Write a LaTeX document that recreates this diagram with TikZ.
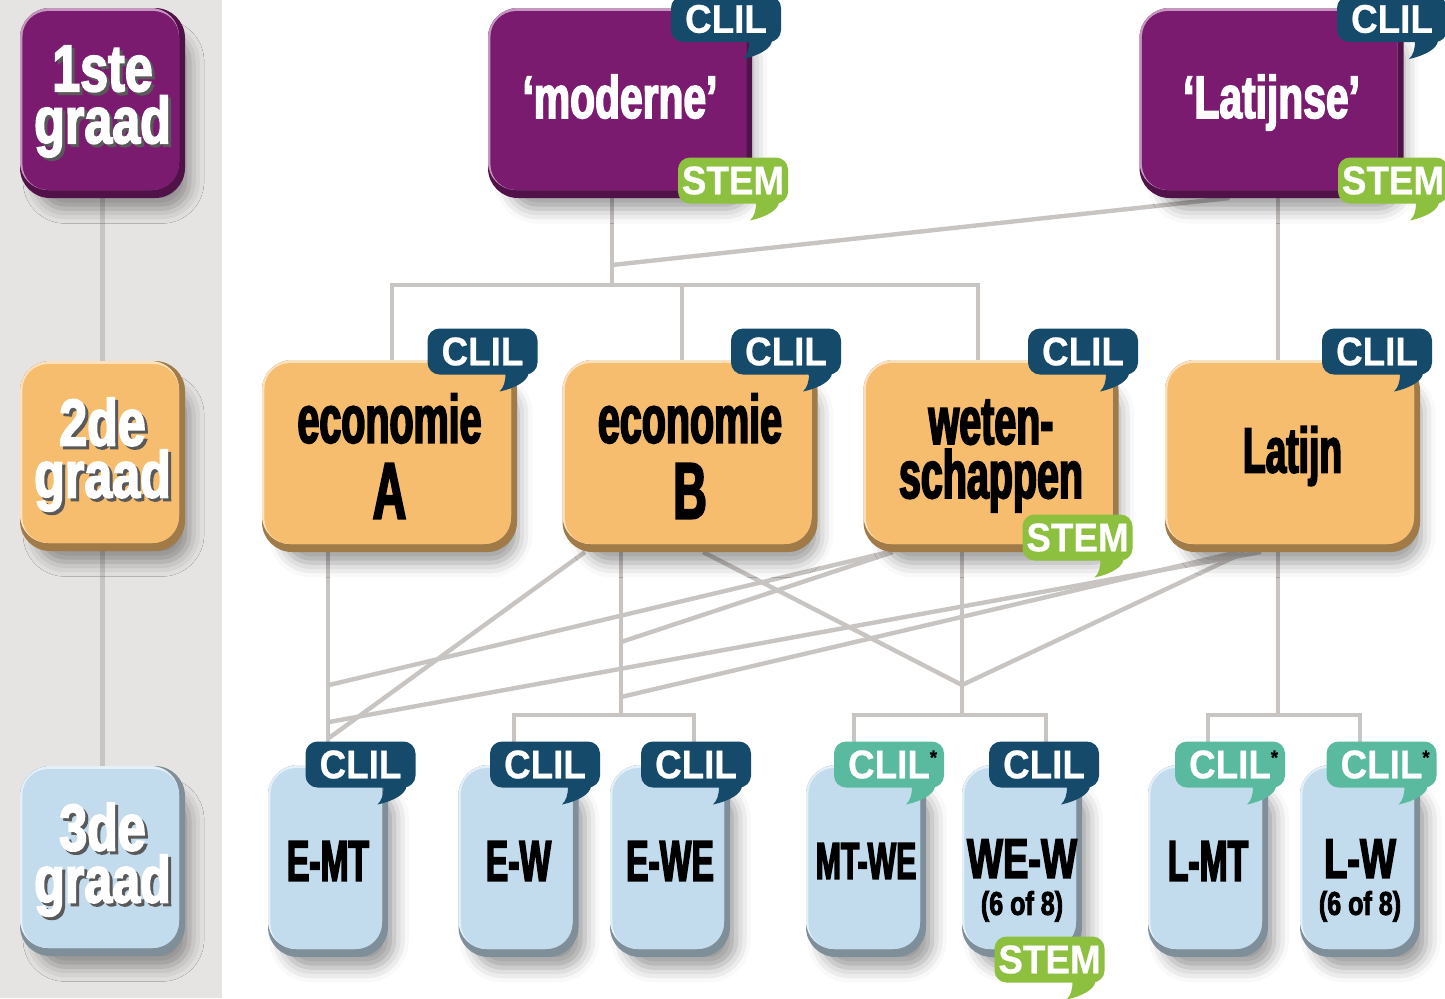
\documentclass[tikz,border=0pt]{standalone}
\usepackage{fontspec}
\usetikzlibrary{shadows.blur}
\newfontfamily\condfont[FakeStretch=0.58,FakeBold=2.5]{Liberation Sans Bold}
\newfontfamily\breedfont[FakeStretch=0.68,FakeBold=2.5]{Liberation Sans Bold}
\newfontfamily\gradefont[FakeStretch=0.76,FakeBold=2.5]{Liberation Sans Bold}
\newfontfamily\tagfont[FakeStretch=0.92,FakeBold=0.6]{Liberation Sans Bold}
\definecolor{paars}{HTML}{7B1B6F}
\definecolor{oranje}{HTML}{F6BD6E}
\definecolor{lblauw}{HTML}{C3DCED}
\definecolor{clildonker}{HTML}{164A6A}
\definecolor{clillicht}{HTML}{5ABA9F}
\definecolor{stemgroen}{HTML}{8DC03F}
\definecolor{lijn}{HTML}{C8C4C2}
\definecolor{paneel}{HTML}{E6E4E3}
\pgfdeclarelayer{background}
\pgfsetlayers{background,main}
\newcommand{\schaduw}[1]{\makebox[0pt][l]{\hspace{1.5pt}\raisebox{-1.5pt}{\color{black!65}#1}}#1}
\newcommand{\staart}[2]{\fill[#2] ([shift={(-16pt,0.5pt)}]#1.south east)
  .. controls ([shift={(-16pt,-4pt)}]#1.south east) and ([shift={(-17pt,-6.5pt)}]#1.south east) .. ([shift={(-19pt,-8.5pt)}]#1.south east)
  .. controls ([shift={(-10pt,-6.5pt)}]#1.south east) and ([shift={(-5pt,-3pt)}]#1.south east) .. ([shift={(-4.5pt,0.5pt)}]#1.south east) -- cycle;}
\newcommand{\ster}{\rlap{\raisebox{7pt}{\color{black}\fontsize{10}{10}\selectfont*}}}
\newcommand{\basis}[2]{\raisebox{#1}[0pt][0pt]{#2}}
\newcommand{\tweeregels}[2]{\raisebox{-17.5pt}[0pt][0pt]{\begin{tabular}{@{}c@{}}#1\\[-13.5pt]{\gradefont\fontsize{16.5}{17}\selectfont #2}\end{tabular}}}
\begin{document}
\begin{tikzpicture}[x=0.5pt,y=-0.5pt,inner sep=0pt,outer sep=0pt,
box/.style={rounded corners=15pt,align=center,fill=#1!65!black,
  blur shadow={shadow xshift=6pt,shadow yshift=-10pt,shadow blur radius=8pt,shadow scale=0.92,shadow opacity=40},
  path picture={\fill[#1!45!white,rounded corners=14pt] (path picture bounding box.north west) rectangle ([shift={(-3pt,4pt)}]path picture bounding box.south east);
    \fill[#1,rounded corners=13pt] ([shift={(1.2pt,-1.5pt)}]path picture bounding box.north west) rectangle ([shift={(-3pt,4pt)}]path picture bounding box.south east);}},
grade/.style={box=#1,minimum width=82.5pt,minimum height=95pt,text=white,font=\gradefont\fontsize{33}{26}\selectfont},
eerste/.style={box=paars,minimum width=132pt,minimum height=95pt,text=white,font=\breedfont\fontsize{30}{32}\selectfont},
tweede/.style={box=oranje,minimum width=127.5pt,minimum height=96pt,font=\condfont\fontsize{34}{27}\selectfont},
derde/.style={box=lblauw,minimum width=60pt,minimum height=96pt,font=\condfont\fontsize{29}{30}\selectfont},
tag/.style={rounded corners=6pt,fill=#1,text=white,font=\tagfont\fontsize{20}{20}\selectfont,minimum width=55pt,minimum height=23pt},
verbind/.style={draw=lijn,line width=2.2pt}]
\useasboundingbox (0,0) rectangle (1445,998);
% graden
\node[grade=paars] (g1) at (102.5,103) {\schaduw{1ste}\\\schaduw{graad}};
\node[grade=oranje] (g2) at (102.5,456) {\schaduw{2de}\\\schaduw{graad}};
\node[grade=lblauw] (g3) at (102.5,861) {\schaduw{3de}\\\schaduw{graad}};
% eerste graad
\node[eerste] (moderne) at (620,103) {\basis{-7.5pt}{‘moderne’}};
\node[eerste] (latijnse) at (1271.5,103) {\basis{-7.5pt}{‘Latijnse’}};
% tweede graad
\node[tweede] (ecoA) at (389.5,456) {economie\\[9pt]{\fontsize{40}{40}\selectfont A}};
\node[tweede] (ecoB) at (690,456) {economie\\[9pt]{\fontsize{40}{40}\selectfont B}};
\node[tweede] (weten) at (991,456) {weten-\\schappen};
\node[tweede,font=\condfont\fontsize{32}{27}\selectfont] (latijn) at (1292.5,456) {Latijn};
% derde graad
\node[derde] (emt) at (328,861) {E-MT};
\node[derde] (ew) at (518.5,861) {E-W};
\node[derde] (ewe) at (670,861) {E-WE};
\node[derde,font=\condfont\fontsize{26}{30}\selectfont] (mtwe) at (866,861) {MT-WE};
\node[derde,font=\breedfont\fontsize{28}{32}\selectfont] (wew) at (1022,861) {\tweeregels{WE-W}{(6 of 8)}};
\node[derde] (lmt) at (1208,861) {L-MT};
\node[derde,font=\breedfont\fontsize{28}{32}\selectfont] (lw) at (1360,861) {\tweeregels{L-W}{(6 of 8)}};
% labels
\node[tag=clildonker] (tM1) at (726,19) {CLIL}; \staart{tM1}{clildonker}
\node[tag=stemgroen] (tM2) at (733,180.5) {STEM}; \staart{tM2}{stemgroen}
\node[tag=clildonker] (tL1) at (1392,19) {CLIL}; \staart{tL1}{clildonker}
\node[tag=stemgroen] (tL2) at (1393,180.5) {STEM}; \staart{tL2}{stemgroen}
\node[tag=clildonker] (tA) at (482.5,351.5) {CLIL}; \staart{tA}{clildonker}
\node[tag=clildonker] (tB) at (786,351.5) {CLIL}; \staart{tB}{clildonker}
\node[tag=clildonker] (tW1) at (1083,351.5) {CLIL}; \staart{tW1}{clildonker}
\node[tag=stemgroen] (tW2) at (1077.5,537.5) {STEM}; \staart{tW2}{stemgroen}
\node[tag=clildonker] (tLa) at (1377,351.5) {CLIL}; \staart{tLa}{clildonker}
\node[tag=clildonker] (t1) at (360.5,764.5) {CLIL}; \staart{t1}{clildonker}
\node[tag=clildonker] (t2) at (545,764.5) {CLIL}; \staart{t2}{clildonker}
\node[tag=clildonker] (t3) at (696,764.5) {CLIL}; \staart{t3}{clildonker}
\node[tag=clillicht] (t4) at (889,764.5) {CLIL\ster}; \staart{t4}{clillicht}
\node[tag=clildonker] (t5) at (1044,764.5) {CLIL}; \staart{t5}{clildonker}
\node[tag=clillicht] (t6) at (1230,764.5) {CLIL\ster}; \staart{t6}{clillicht}
\node[tag=clillicht] (t7) at (1381.5,764.5) {CLIL\ster}; \staart{t7}{clillicht}
\node[tag=stemgroen] (tS) at (1049.5,959.5) {STEM}; \staart{tS}{stemgroen}
% verbindingen
\coordinate (j1) at (612,285);
\coordinate (j2) at (612,265);
\coordinate (j3) at (621,715);
\coordinate (j4) at (962,715);
\coordinate (j5) at (1278,715);
\coordinate (v1) at (962,685);
\coordinate (a1) at (329,685);
\coordinate (a2) at (329,722);
\coordinate (a3) at (329,738);
\coordinate (b1) at (621,642);
\coordinate (b2) at (621,697);
\begin{pgfonlayer}{background}
\fill[paneel] (0,0) rectangle (222,998);
\draw[verbind] (g1) -- (g3);
\draw[verbind] (j1 |- moderne.south) -- (j1);
\draw[verbind] ([xshift=1.25pt]ecoA.north) |- ([xshift=-6.5pt]weten.north |- j1) -- ([xshift=-6.5pt]weten.north);
\draw[verbind] ([xshift=-4pt]ecoB.north) -- ([xshift=-4pt]ecoB.north |- j1);
\draw[verbind] ([xshift=-21pt]latijnse.south) -- (j2);
\draw[verbind] ([xshift=3.25pt]latijnse.south) -- ([xshift=3.25pt]latijnse.south |- latijn.north);
\draw[verbind] (emt.north |- ecoA.south) -- (emt.north);
\draw[verbind] (j3 |- ecoB.south) -- (j3);
\draw[verbind] ([xshift=-2.25pt]ew.north) |- (j3) -| ([xshift=12pt]ewe.north);
\draw[verbind] (j4 |- weten.south) -- (j4);
\draw[verbind] ([xshift=-6pt]mtwe.north) |- (j4) -| ([xshift=12pt]wew.north);
\draw[verbind] (j5 |- latijn.south) -- (j5);
\draw[verbind] (lmt.north) |- (j5) -| (lw.north);
\draw[verbind] ([xshift=-52.5pt]ecoB.south) -- (a3);
\draw[verbind] ([xshift=6.5pt]ecoB.south) -- (v1) -- ([xshift=-23.75pt]latijn.south);
\draw[verbind] ([xshift=-51pt]weten.south) -- (a1);
\draw[verbind] ([xshift=-49pt]weten.south) -- (b1);
\draw[verbind] ([xshift=-15.75pt]latijn.south) -- (a2);
\draw[verbind] ([xshift=-27.25pt]latijn.south) -- (b2);
\end{pgfonlayer}
\end{tikzpicture}
\end{document}
